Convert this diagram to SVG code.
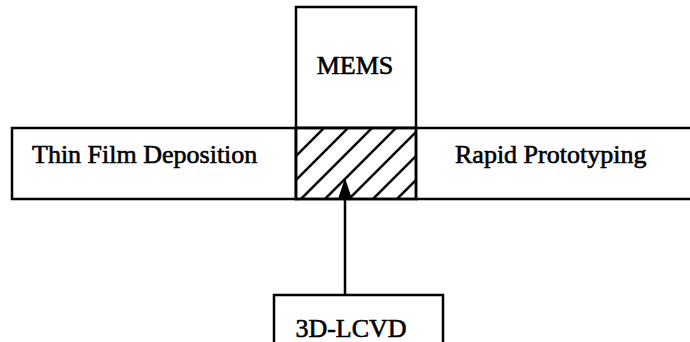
<svg xmlns="http://www.w3.org/2000/svg" width="690" height="342" viewBox="0 0 690 342">
  <style>
    .box { fill: #fff; stroke: #000; stroke-width: 2.5; }
    .lbl { font-family: "Liberation Serif", "Times New Roman", serif; font-size: 26px; fill: #000; stroke: #000; stroke-width: 0.6; }
    .hatch { stroke: #000; stroke-width: 2.5; }
    .conn { stroke: #000; stroke-width: 2.5; fill: none; }
  </style>
  <defs>
    <clipPath id="overlapClip">
      <rect x="296" y="128" width="120" height="72"/>
    </clipPath>
  </defs>

  <g id="mems">
    <rect class="box" x="296" y="7" width="120" height="121"/>
    <text class="lbl" x="355" y="74" text-anchor="middle">MEMS</text>
  </g>

  <g id="thin-film">
    <rect class="box" x="12" y="128" width="284" height="71"/>
    <text class="lbl" x="32" y="163">Thin Film Deposition</text>
  </g>

  <g id="rapid-prototyping">
    <path class="conn" d="M416,128 H692 M416,199 H692"/>
    <text class="lbl" x="455" y="163">Rapid Prototyping</text>
  </g>

  <g id="overlap">
    <rect class="box" x="296" y="128" width="120" height="71"/>
    <g clip-path="url(#overlapClip)">
      <path class="hatch" d="M276,200 L356,120 M300,200 L380,120 M324,200 L404,120 M348,200 L428,120 M372,200 L452,120 M396,200 L476,120 M252,200 L332,120"/>
    </g>
    <rect x="296" y="128" width="120" height="71" fill="none" stroke="#000" stroke-width="2.5"/>
  </g>

  <g id="lcvd">
    <rect class="box" x="274" y="295" width="169" height="60"/>
    <text class="lbl" x="351" y="337" text-anchor="middle">3D-LCVD</text>
  </g>

  <g id="connectors">
    <line class="conn" x1="345" y1="295" x2="345" y2="199"/>
    <path d="M345,178 L352,199 L338,199 z" fill="#000"/>
  </g>
</svg>
